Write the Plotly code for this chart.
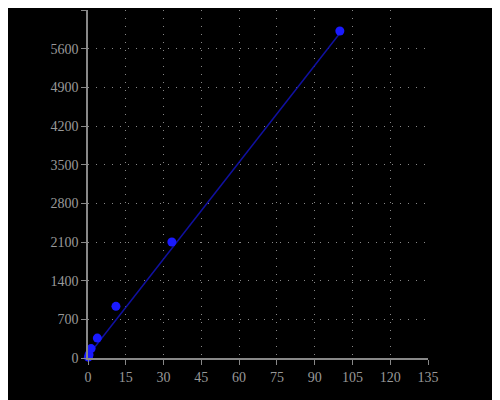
import plotly.graph_objects as go

conc = [0.14, 0.41, 1.23, 3.7, 11.1, 33.3, 100]
signal = [15, 60, 170, 360, 935, 2100, 5920]
fit_x = [0, 100]
fit_y = [40, 5880]

fig = go.Figure()
fig.add_trace(go.Scatter(x=fit_x, y=fit_y, mode="lines",
                         line=dict(color="#1010a0", width=1.5), showlegend=False, cliponaxis=False))
fig.add_trace(go.Scatter(x=conc, y=signal, mode="markers", cliponaxis=False,
                         marker=dict(color="#1a1aff", size=9), showlegend=False))
ax = dict(showline=True, linecolor="#888", linewidth=1.5, ticks="outside", tickcolor="#888",
          ticklen=5, showgrid=True, gridcolor="#888", griddash="1px,7px", gridwidth=1,
          zeroline=False, automargin=False,
          tickfont=dict(family="Liberation Serif, DejaVu Serif, serif", size=14, color="#999"))
fig.update_xaxes(range=[0, 135], tick0=0, dtick=15, **ax)
fig.update_yaxes(range=[0, 6300], tick0=0, dtick=700, **ax)
fig.update_layout(width=500, height=400, paper_bgcolor="black", plot_bgcolor="black",
                  margin=dict(l=80, r=80, t=2, b=50, autoexpand=False))
fig.write_html("out.html")
